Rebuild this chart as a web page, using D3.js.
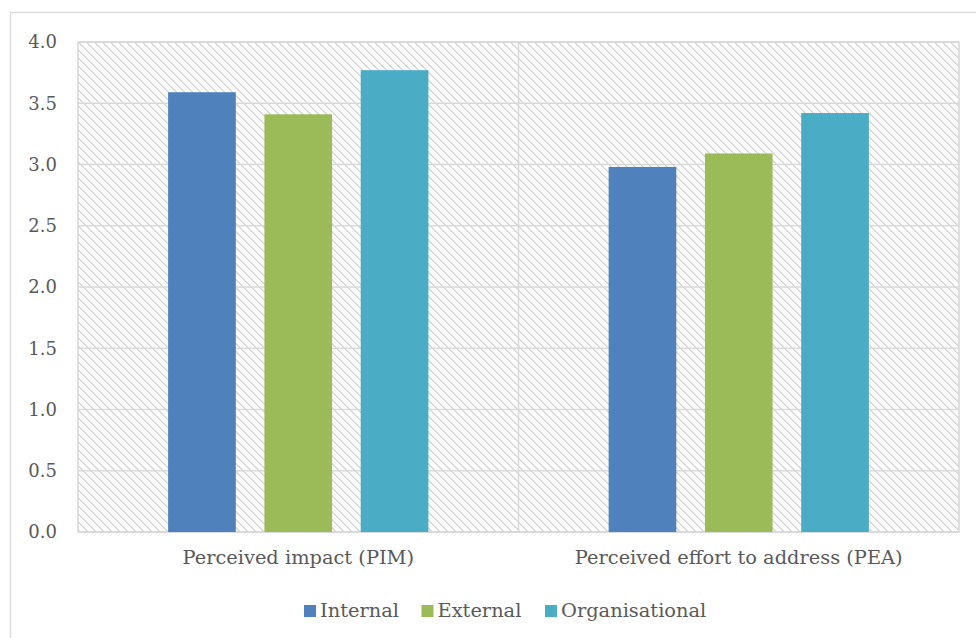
<!DOCTYPE html>
<html>
<head>
<meta charset="utf-8">
<script src="https://cdn.jsdelivr.net/npm/d3@7"></script>
<style>
  html, body { margin: 0; padding: 0; background: #fff; }
  svg { display: block; }
  svg text { fill: #595959; }
</style>
</head>
<body>
<svg id="chart" width="976" height="638"></svg>
<script>
// Mean scores per dimension, split by factor type
const categories = ["Perceived impact (PIM)", "Perceived effort to address (PEA)"];
const seriesNames = ["Internal", "External", "Organisational"];
const internalValues = [3.59, 2.98];
const externalValues = [3.41, 3.09];
const organisationalValues = [3.77, 3.42];
const seriesColors = ["#4f81bd", "#9bbb59", "#4bacc6"];
const yTicks = [0, 0.5, 1, 1.5, 2, 2.5, 3, 3.5, 4];

const seriesValues = [internalValues, externalValues, organisationalValues];
const rows = categories.map((c, i) => ({
  category: c,
  values: seriesNames.map((s, j) => ({ series: s, value: seriesValues[j][i] }))
}));

const svg = d3.select("#chart");
const W = 976, H = 638;
const plot = { left: 78, right: 959, top: 42, bottom: 532 };
const serif = "'DejaVu Serif', serif";

// outer chart frame (only its left and top edges fall inside the view)
svg.append("rect")
  .attr("x", 10.5).attr("y", 12.5)
  .attr("width", W + 20).attr("height", H + 20)
  .attr("fill", "#fff").attr("stroke", "#d9d9d9").attr("stroke-width", 1.3);

// light diagonal hatch for the plot background
const defs = svg.append("defs");
const pat = defs.append("pattern")
  .attr("id", "hatch").attr("patternUnits", "userSpaceOnUse")
  .attr("width", 8).attr("height", 8)
  .attr("x", plot.left).attr("y", plot.top);
pat.append("rect").attr("width", 8).attr("height", 8).attr("fill", "#fff");
for (let r = 0; r < 8; r++) {
  pat.append("rect").attr("x", r).attr("y", r).attr("width", 1).attr("height", 1).attr("fill", "#cfcfcf");
  pat.append("rect").attr("x", (r + 1) % 8).attr("y", r).attr("width", 1).attr("height", 1).attr("fill", "#e3e3e3");
}

const x0 = d3.scaleBand().domain(categories).range([plot.left, plot.right]).padding(0);
const x1 = d3.scaleBand().domain(seriesNames).range([0, x0.bandwidth()])
  .paddingInner(0.297).paddingOuter(0.936);
const y = d3.scaleLinear().domain([0, 4]).range([plot.bottom, plot.top]);
const color = d3.scaleOrdinal().domain(seriesNames).range(seriesColors);

svg.append("rect")
  .attr("x", plot.left).attr("y", plot.top)
  .attr("width", plot.right - plot.left).attr("height", plot.bottom - plot.top)
  .attr("fill", "url(#hatch)");

// horizontal gridlines
svg.append("g")
  .selectAll("line").data(yTicks).join("line")
  .attr("x1", plot.left).attr("x2", plot.right)
  .attr("y1", d => y(d)).attr("y2", d => y(d))
  .attr("stroke", "#d9d9d9").attr("stroke-width", 1.6);

// plot frame and category divider
svg.append("rect")
  .attr("x", plot.left).attr("y", plot.top)
  .attr("width", plot.right - plot.left).attr("height", plot.bottom - plot.top)
  .attr("fill", "none").attr("stroke", "#d9d9d9").attr("stroke-width", 1.6);
svg.append("line")
  .attr("x1", x0(categories[1])).attr("x2", x0(categories[1]))
  .attr("y1", plot.top).attr("y2", plot.bottom)
  .attr("stroke", "#d9d9d9").attr("stroke-width", 1.6);

// grouped bars
svg.append("g")
  .selectAll("g").data(rows).join("g")
  .attr("transform", d => `translate(${x0(d.category)},0)`)
  .selectAll("rect").data(d => d.values).join("rect")
  .attr("x", d => x1(d.series))
  .attr("width", x1.bandwidth())
  .attr("y", d => y(d.value))
  .attr("height", d => y(0) - y(d.value))
  .attr("fill", d => color(d.series));

// value axis labels
const yAxis = d3.axisLeft(y).tickValues(yTicks).tickFormat(d3.format(".1f")).tickSize(0).tickPadding(21);
const ya = svg.append("g").attr("transform", `translate(${plot.left},0)`).call(yAxis)
  .attr("font-family", serif).attr("font-size", 18);
ya.select(".domain").remove();
ya.selectAll("text").attr("fill", "#595959");

// category labels
const xAxis = d3.axisBottom(x0).tickSize(0).tickPadding(18);
const xa = svg.append("g").attr("transform", `translate(0,${plot.bottom})`).call(xAxis)
  .attr("font-family", serif).attr("font-size", 19.4);
xa.select(".domain").remove();
xa.selectAll("text").attr("fill", "#595959");

// legend
const legendX = [304, 421.5, 545];
const legend = svg.append("g").attr("font-family", serif).attr("font-size", 19.4)
  .selectAll("g").data(seriesNames).join("g")
  .attr("transform", (d, i) => `translate(${legendX[i]},605)`);
legend.append("rect").attr("width", 12).attr("height", 12).attr("fill", d => color(d));
legend.append("text").attr("x", 16).attr("y", 12).text(d => d);
</script>
</body>
</html>
